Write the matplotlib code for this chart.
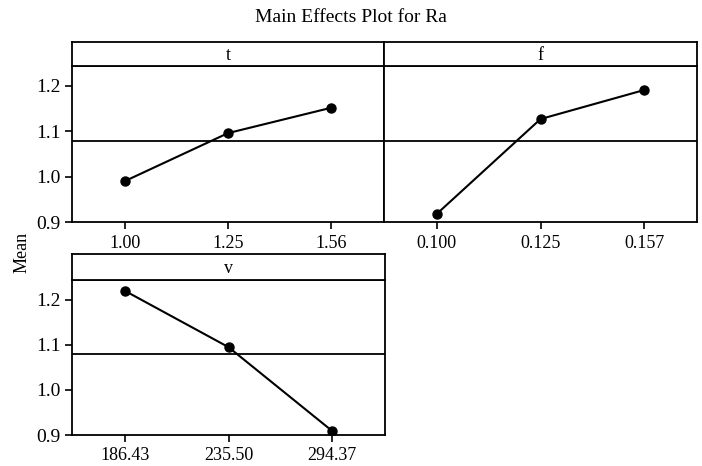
import matplotlib
matplotlib.use("Agg")
import matplotlib.pyplot as plt

plt.rcParams['font.family'] = ['Liberation Serif', 'DejaVu Serif']

t_levels = ["1.00", "1.25", "1.56"]
t_means = [0.990, 1.096, 1.152]
f_levels = ["0.100", "0.125", "0.157"]
f_means = [0.918, 1.127, 1.191]
v_levels = ["186.43", "235.50", "294.37"]
v_means = [1.220, 1.095, 0.909]
grand_mean = 1.079
y_ticks = [0.9, 1.0, 1.1, 1.2]
y_tick_labels = ["0.9", "1.0", "1.1", "1.2"]

W, H = 702, 466
fig = plt.figure(figsize=(W / 100, H / 100), dpi=100)

def px(x0, y0, x1, y1):
    return [x0 / W, 1 - y1 / H, (x1 - x0) / W, (y1 - y0) / H]

panels = [
    ("t", t_levels, t_means, (72, 42, 66, 222, 384), True),
    ("f", f_levels, f_means, (384, 42, 66, 222, 697), False),
    ("v", v_levels, v_means, (72, 254, 280, 435, 385), True),
]

for name, levels, means, (x0, ys, yt, yb, x1), show_y in panels:
    ax = fig.add_axes(px(x0, yt, x1, yb))
    sx = fig.add_axes(px(x0, ys, x1, yt))
    sx.set_xticks([]); sx.set_yticks([])
    for sp in sx.spines.values():
        sp.set_linewidth(1.3)
    sx.text(0.5, 0.45, name, ha='center', va='center', fontsize=13, transform=sx.transAxes)

    pos = list(range(1, len(levels) + 1))
    ax.axhline(grand_mean, color='black', lw=1.3)
    ax.plot(pos, means, color='black', lw=1.5, marker='o', markersize=6.5)
    ax.set_xlim(0.49, 3.51)
    ax.set_ylim(0.9, 1.244)
    ax.set_xticks(pos)
    ax.set_xticklabels(levels, fontsize=13)
    ax.tick_params(axis='x', direction='out', length=5, width=1.2, pad=4)
    if show_y:
        ax.set_yticks(y_ticks)
        ax.set_yticklabels(y_tick_labels, fontsize=14)
        ax.tick_params(axis='y', direction='out', length=5, width=1.2, pad=3)
    else:
        ax.set_yticks([])
    for sp in ax.spines.values():
        sp.set_linewidth(1.3)

fig.text(351 / W, 1 - 18 / H, "Main Effects Plot for Ra", ha='center', va='center', fontsize=14)
fig.text(22 / W, 1 - 252 / H, "Mean", rotation=90, ha='center', va='center', fontsize=13)

fig.savefig("out.png", dpi=100)
